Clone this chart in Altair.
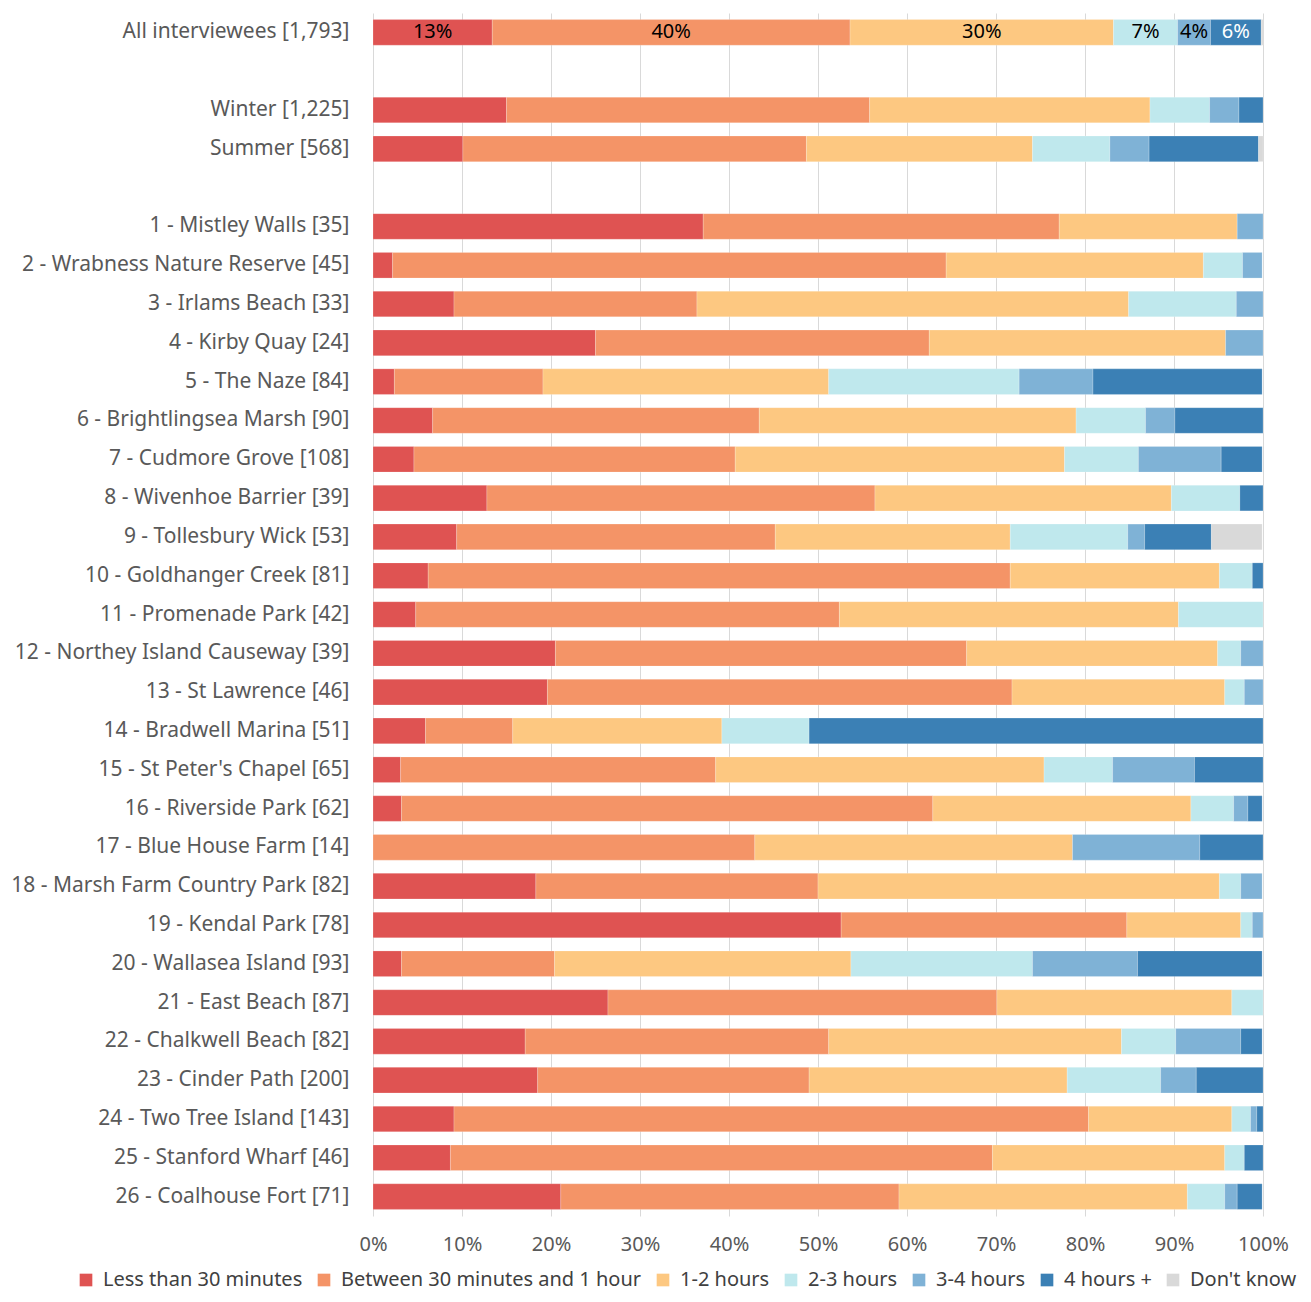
import altair as alt
import pandas as pd

FONT = "Noto Sans"

categories = [
    "All interviewees [1,793]", " ", "Winter [1,225]", "Summer [568]", "  ",
    "1 - Mistley Walls [35]", "2 - Wrabness Nature Reserve [45]", "3 - Irlams Beach [33]",
    "4 - Kirby Quay [24]", "5 - The Naze [84]", "6 - Brightlingsea Marsh [90]",
    "7 - Cudmore Grove [108]", "8 - Wivenhoe Barrier [39]", "9 - Tollesbury Wick [53]",
    "10 - Goldhanger Creek [81]", "11 - Promenade Park [42]", "12 - Northey Island Causeway [39]",
    "13 - St Lawrence [46]", "14 - Bradwell Marina [51]", "15 - St Peter's Chapel [65]",
    "16 - Riverside Park [62]", "17 - Blue House Farm [14]", "18 - Marsh Farm Country Park [82]",
    "19 - Kendal Park [78]", "20 - Wallasea Island [93]", "21 - East Beach [87]",
    "22 - Chalkwell Beach [82]", "23 - Cinder Path [200]", "24 - Two Tree Island [143]",
    "25 - Stanford Wharf [46]", "26 - Coalhouse Fort [71]",
]
bar_categories = [c for c in categories if c.strip()]

series = ["Less than 30 minutes", "Between 30 minutes and 1 hour", "1-2 hours",
          "2-3 hours", "3-4 hours", "4 hours +", "Don't know"]
colors = ["#DF5352", "#F49467", "#FDC881", "#BFE8ED", "#7FB2D6", "#3B80B5", "#D9D9D9"]

# percentages per bar category (order of bar_categories)
less_30 = [13.4, 15.0, 10.1, 37.1, 2.2, 9.1, 25.0, 2.4, 6.7, 4.6, 12.8, 9.4, 6.2, 4.8,
           20.5, 19.6, 5.9, 3.1, 3.2, 0.0, 18.3, 52.6, 3.2, 26.4, 17.1, 18.5, 9.1, 8.7, 21.1]
min30_1h = [40.2, 40.8, 38.6, 40.0, 62.2, 27.3, 37.5, 16.7, 36.7, 36.1, 43.6, 35.8, 65.4, 47.6,
            46.2, 52.2, 9.8, 35.4, 59.7, 42.9, 31.7, 32.1, 17.2, 43.7, 34.1, 30.5, 71.3, 60.9, 38.0]
h1_2 = [29.6, 31.5, 25.4, 20.0, 28.9, 48.5, 33.3, 32.1, 35.6, 37.0, 33.3, 26.4, 23.5, 38.1,
        28.2, 23.9, 23.5, 36.9, 29.0, 35.7, 45.1, 12.8, 33.3, 26.4, 32.9, 29.0, 16.1, 26.1, 32.4]
h2_3 = [7.2, 6.7, 8.7, 0.0, 4.4, 12.1, 0.0, 21.4, 7.8, 8.3, 7.7, 13.2, 3.7, 9.5,
        2.6, 2.2, 9.8, 7.7, 4.8, 0.0, 2.4, 1.3, 20.4, 3.5, 6.1, 10.5, 2.1, 2.2, 4.2]
h3_4 = [3.7, 3.3, 4.4, 2.9, 2.2, 3.0, 4.2, 8.3, 3.3, 9.3, 0.0, 1.9, 0.0, 0.0,
        2.6, 2.2, 0.0, 9.2, 1.6, 14.3, 2.4, 1.2, 11.8, 0.0, 7.3, 4.0, 0.7, 0.0, 1.4]
h4_plus = [5.7, 2.7, 12.3, 0.0, 0.0, 0.0, 0.0, 19.0, 10.0, 4.6, 2.6, 7.5, 1.2, 0.0,
           0.0, 0.0, 51.0, 7.7, 1.6, 7.1, 0.0, 0.0, 14.0, 0.0, 2.4, 7.5, 0.7, 2.2, 2.8]
dont_know = [0.2, 0.0, 0.5, 0.0, 0.0, 0.0, 0.0, 0.0, 0.0, 0.0, 0.0, 5.7, 0.0, 0.0,
             0.0, 0.0, 0.0, 0.0, 0.0, 0.0, 0.0, 0.0, 0.0, 0.0, 0.0, 0.0, 0.0, 0.0, 0.0]

series_values = [less_30, min30_1h, h1_2, h2_3, h3_4, h4_plus, dont_know]

rows = []
for ci, cat in enumerate(bar_categories):
    for si, s in enumerate(series):
        v = series_values[si][ci]
        if v > 0:
            rows.append({"category": cat, "series": s, "order": si, "value": v})
df = pd.DataFrame(rows)

y_enc = alt.Y(
    "category:N",
    scale=alt.Scale(domain=categories, paddingInner=0.34, paddingOuter=0.17),
    axis=alt.Axis(title=None, ticks=False, domain=False, grid=False,
                  labelFontSize=21, labelPadding=24, labelLimit=400, labelColor="#595959"),
)

base = alt.Chart(df)

bars = base.mark_bar(stroke="white", strokeWidth=0.4, strokeOpacity=0.5).encode(
    x=alt.X(
        "value:Q",
        stack="zero",
        scale=alt.Scale(domain=[0, 100], nice=False, clamp=True),
        axis=alt.Axis(title=None, values=list(range(0, 101, 10)), labelExpr="datum.value + '%'",
                      ticks=False, domain=False, grid=True, gridColor="#D9D9D9", gridWidth=1,
                      labelFlush=False, labelFontSize=20, labelPadding=18, labelColor="#595959"),
    ),
    y=y_enc,
    color=alt.Color(
        "series:N",
        scale=alt.Scale(domain=series, range=colors),
        legend=alt.Legend(
            title=None, orient="none", direction="horizontal", columns=7,
            legendX=-297, legendY=1257, symbolType="square", symbolSize=160,
            symbolStrokeWidth=0, labelFontSize=20, labelLimit=500, labelColor="#404040",
            columnPadding=11, labelOffset=7, padding=0,
        ),
    ),
    order=alt.Order("order:Q"),
)

labels = (
    base.transform_filter(alt.datum.category == categories[0])
    .transform_stack(stack="value", as_=["x0", "x1"], groupby=["category"],
                     sort=[alt.SortField("order", order="ascending")])
    .transform_calculate(mid="(datum.x0 + datum.x1) / 2",
                         label="format(round(datum.value), 'd') + '%'")
    .transform_filter("datum.value >= 1")
    .mark_text(fontSize=20, font=FONT, baseline="middle", align="center")
    .encode(
        x=alt.X("mid:Q"),
        y=y_enc,
        text="label:N",
        color=alt.condition(alt.datum.series == "4 hours +", alt.value("white"), alt.value("black")),
    )
)

chart = (
    alt.layer(bars, labels)
    .properties(
        width=890,
        height=1203,
        autosize=alt.AutoSizeParams(type="none"),
        padding={"left": 365, "top": 5, "right": 40, "bottom": 78},
    )
    .configure_view(stroke=None)
    .configure_axis(labelFont=FONT)
    .configure_legend(labelFont=FONT)
    .configure_text(font=FONT)
)

chart.save("out.html", embed_options={"renderer": "svg", "actions": False})
